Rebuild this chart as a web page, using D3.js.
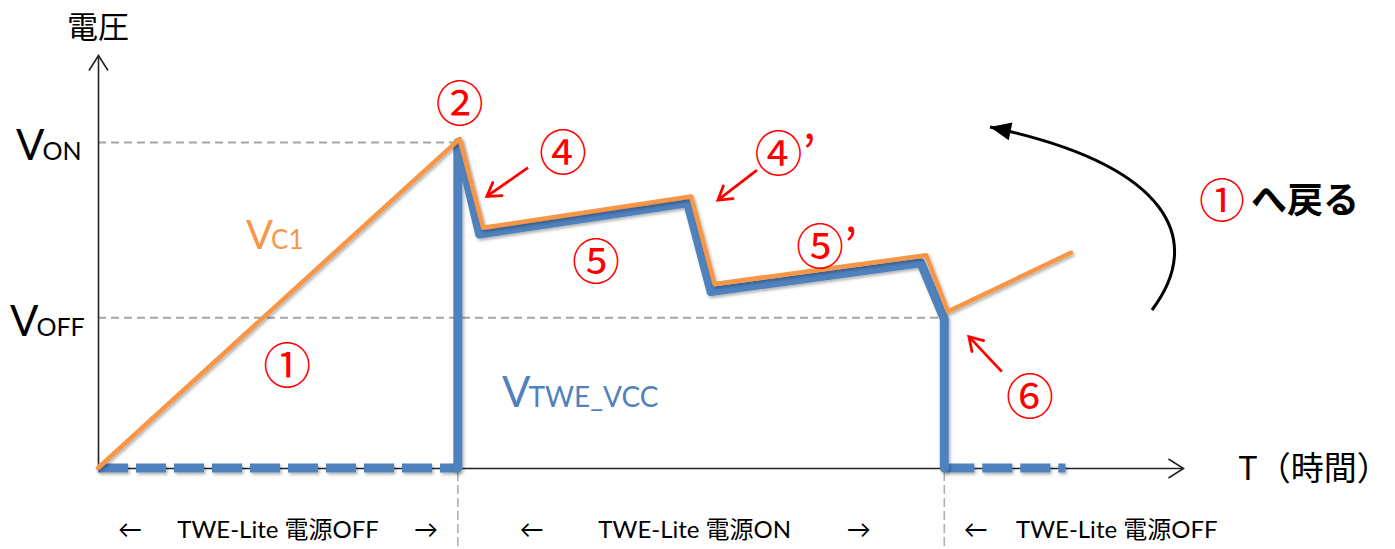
<!DOCTYPE html>
<html>
<head>
<meta charset="utf-8">
<script src="https://cdn.jsdelivr.net/npm/d3@7"></script>
<style>
  body { margin: 0; background: #fff; }
  text { font-family: Lato, "Noto Sans CJK JP", sans-serif; }
</style>
</head>
<body>
<div id="chart"></div>
<script>
// Threshold voltages (V)
const V_ON = 2.6, V_OFF = 1.2;

// Capacitor voltage Vc1 (orange): time / voltage
const vc1T = [0, 10.0, 10.65, 16.4, 17.05, 22.9, 23.5, 26.9];
const vc1V = [0, 2.63, 1.92, 2.17, 1.47, 1.70, 1.25, 1.72];

// TWE supply voltage while the module is on (blue, solid)
const vccT = [9.95, 9.95, 10.55, 16.3, 16.95, 22.75, 23.4, 23.4];
const vccV = [0, 2.6, 1.87, 2.12, 1.41, 1.64, 1.19, 0];

// supply is 0 while off (blue, dashed)
const offSpans = [[0, 9.95], [23.4, 26.75]];

// bottom phase labels and where they sit on the time axis
const phaseText = ["TWE-Lite 電源OFF", "TWE-Lite 電源ON", "TWE-Lite 電源OFF"];
const phaseMid = [4.98, 16.5, 28.17];
const phaseArrow = [[148, 148], [163, 164], [141, null]];
const phaseEdges = [9.95, 23.4];

// circled step numbers (time, voltage)
const stepText = ["①", "②", "④", "④’", "⑤", "⑤’", "⑥"];
const stepT = [5.23, 10.0, 12.86, 19.0, 13.77, 20.15, 25.77];
const stepV = [0.85, 2.94, 2.55, 2.54, 1.68, 1.80, 0.60];

// red pointer arrows: from -> to (time, voltage)
const pointerFrom = [[11.89, 2.40], [18.22, 2.38], [24.99, 0.77]];
const pointerTo = [[10.75, 2.17], [17.14, 2.14], [24.08, 1.05]];

const width = 1395, height = 549;
const BLUE = "#4f81bd", ORANGE = "#f79646", RED = "#ff0000";

const svg = d3.select("#chart").append("svg")
  .attr("width", width)
  .attr("height", height);

const x = d3.scaleLinear().domain([0, 30]).range([98, 1183]);
const y = d3.scaleLinear().domain([0, 3.3]).range([468, 55]);

const defs = svg.append("defs");

// soft shadow under the traces (user space so flat lines still render)
defs.append("filter").attr("id", "shadow")
  .attr("filterUnits", "userSpaceOnUse")
  .attr("x", 0).attr("y", 0).attr("width", width).attr("height", height)
  .append("feDropShadow")
  .attr("dx", 1.5).attr("dy", 2).attr("stdDeviation", 1.5)
  .attr("flood-color", "#000").attr("flood-opacity", 0.3);

// open chevron for the axes
defs.append("marker").attr("id", "axisArrow")
  .attr("markerUnits", "userSpaceOnUse")
  .attr("viewBox", "-20 -12 24 24")
  .attr("refX", 0).attr("refY", 0)
  .attr("markerWidth", 24).attr("markerHeight", 24)
  .attr("orient", "auto")
  .append("path")
  .attr("d", "M-15,-9.5L0,0L-15,9.5")
  .attr("fill", "none").attr("stroke", "#222").attr("stroke-width", 1.6);

// open chevron for the red pointers
defs.append("marker").attr("id", "redArrow")
  .attr("markerUnits", "userSpaceOnUse")
  .attr("viewBox", "-20 -12 24 24")
  .attr("refX", 0).attr("refY", 0)
  .attr("markerWidth", 24).attr("markerHeight", 24)
  .attr("orient", "auto")
  .append("path")
  .attr("d", "M-13,-8L0,0L-13,8")
  .attr("fill", "none").attr("stroke", RED).attr("stroke-width", 2.8)
  .attr("stroke-linecap", "round");

// filled head for the curved return arrow
defs.append("marker").attr("id", "blackHead")
  .attr("markerUnits", "userSpaceOnUse")
  .attr("viewBox", "-24 -12 28 24")
  .attr("refX", 0).attr("refY", 0)
  .attr("markerWidth", 28).attr("markerHeight", 24)
  .attr("orient", "auto")
  .append("path")
  .attr("d", "M-21,-9L0,0L-21,9Z")
  .attr("fill", "#000");

// guide lines for V_ON / V_OFF
svg.append("line")
  .attr("x1", x(0)).attr("x2", x(vc1T[1]))
  .attr("y1", y(V_ON)).attr("y2", y(V_ON))
  .attr("stroke", "#a6a6a6").attr("stroke-width", 2).attr("stroke-dasharray", "8,5");
svg.append("line")
  .attr("x1", x(0)).attr("x2", x(vccT[6]))
  .attr("y1", y(V_OFF)).attr("y2", y(V_OFF))
  .attr("stroke", "#a6a6a6").attr("stroke-width", 2).attr("stroke-dasharray", "8,5");

// phase boundaries below the time axis
svg.selectAll(".edge").data(phaseEdges).join("line")
  .attr("class", "edge")
  .attr("x1", d => x(d)).attr("x2", d => x(d))
  .attr("y1", y(0) + 4).attr("y2", height)
  .attr("stroke", "#b0b0b0").attr("stroke-width", 1.6).attr("stroke-dasharray", "9,4");

// axes (no ticks, arrow at the end)
const xAxis = svg.append("g")
  .attr("transform", `translate(0,${y(0)})`)
  .call(d3.axisBottom(x).tickValues([]).tickSizeOuter(0));
const yAxis = svg.append("g")
  .attr("transform", `translate(${x(0)},0)`)
  .call(d3.axisLeft(y).tickValues([]).tickSizeOuter(0));
[xAxis, yAxis].forEach(g => g.select(".domain")
  .attr("stroke", "#222").attr("stroke-width", 1.6)
  .attr("marker-end", "url(#axisArrow)"));

const line = d3.line().x(d => x(d[0])).y(d => y(d[1]));

// blue: supply off (dashed at 0 V)
svg.selectAll(".off").data(offSpans).join("path")
  .attr("class", "off")
  .attr("d", d => line([[d[0], 0], [d[1], 0]]))
  .attr("fill", "none").attr("stroke", BLUE).attr("stroke-width", 9)
  .attr("stroke-dasharray", "30,8")
  .attr("filter", "url(#shadow)");

// blue: supply on
svg.append("path")
  .attr("d", line(d3.zip(vccT, vccV)))
  .attr("fill", "none").attr("stroke", BLUE).attr("stroke-width", 9)
  .attr("stroke-linejoin", "round").attr("stroke-linecap", "round")
  .attr("filter", "url(#shadow)");

// orange: capacitor voltage
svg.append("path")
  .attr("d", line(d3.zip(vc1T, vc1V)))
  .attr("fill", "none").attr("stroke", ORANGE).attr("stroke-width", 4.5)
  .attr("stroke-linejoin", "round").attr("stroke-linecap", "round")
  .attr("filter", "url(#shadow)");

// axis titles
svg.append("text")
  .attr("x", x(0)).attr("y", 38)
  .attr("text-anchor", "middle")
  .style("font-size", "31px").style("font-family", "'Noto Sans CJK JP'")
  .text("電圧");

svg.append("text")
  .attr("x", 1238).attr("y", y(0) + 12)
  .style("font-size", "33px").style("font-family", "'Noto Sans CJK JP'")
  .text("T（時間）");

// V_ON / V_OFF labels with small caps subscript
function vLabel(xp, yp, sub, color, bigSize, smallSize) {
  const t = svg.append("text").attr("x", xp).attr("y", yp).attr("fill", color);
  t.append("tspan").style("font-size", bigSize + "px").text("V");
  t.append("tspan").style("font-size", smallSize + "px").attr("dx", -2).text(sub);
  return t;
}
vLabel(16, y(V_ON) + 17, "ON", "#000", 42, 25);
vLabel(10, y(V_OFF) + 18, "OFF", "#000", 42, 25);
vLabel(246, 249, "C1", ORANGE, 40, 26);
vLabel(502, 407, "TWE_VCC", BLUE, 42, 28);

// circled step numbers
svg.selectAll(".step").data(d3.zip(stepText, stepT, stepV)).join("text")
  .attr("class", "step")
  .attr("x", d => x(d[1])).attr("y", d => y(d[2]))
  .attr("text-anchor", "middle").attr("dominant-baseline", "central")
  .attr("fill", RED)
  .style("font-size", "48px").style("font-family", "'Noto Sans CJK JP'")
  .text(d => d[0]);

// red pointers
svg.selectAll(".pointer").data(d3.zip(pointerFrom, pointerTo)).join("line")
  .attr("class", "pointer")
  .attr("x1", d => x(d[0][0])).attr("y1", d => y(d[0][1]))
  .attr("x2", d => x(d[1][0])).attr("y2", d => y(d[1][1]))
  .attr("stroke", RED).attr("stroke-width", 2.8)
  .attr("marker-end", "url(#redArrow)");

// curved "back to 1" arrow
svg.append("path")
  .attr("d", "M1152,310C1205,240 1170,165 990,127")
  .attr("fill", "none").attr("stroke", "#000").attr("stroke-width", 3)
  .attr("marker-end", "url(#blackHead)");

const back = svg.append("text").attr("x", 1199).attr("y", 197)
  .attr("dominant-baseline", "central")
  .style("font-family", "'Noto Sans CJK JP'");
back.append("tspan").attr("fill", RED).style("font-size", "46px").text("①");
back.append("tspan").attr("fill", "#000").attr("dx", 6)
  .style("font-size", "36px").style("font-weight", "bold").text("へ戻る");

// phase labels under the axis
phaseText.forEach((label, i) => {
  const cx = x(phaseMid[i]);
  svg.append("text").attr("x", cx).attr("y", 538)
    .attr("text-anchor", "middle").style("font-size", "24px")
    .text(label);
  const [l, r] = phaseArrow[i];
  if (l !== null) svg.append("text").attr("x", cx - l).attr("y", 538)
    .attr("text-anchor", "middle").style("font-size", "24px").text("←");
  if (r !== null) svg.append("text").attr("x", cx + r).attr("y", 538)
    .attr("text-anchor", "middle").style("font-size", "24px").text("→");
});
</script>
</body>
</html>
